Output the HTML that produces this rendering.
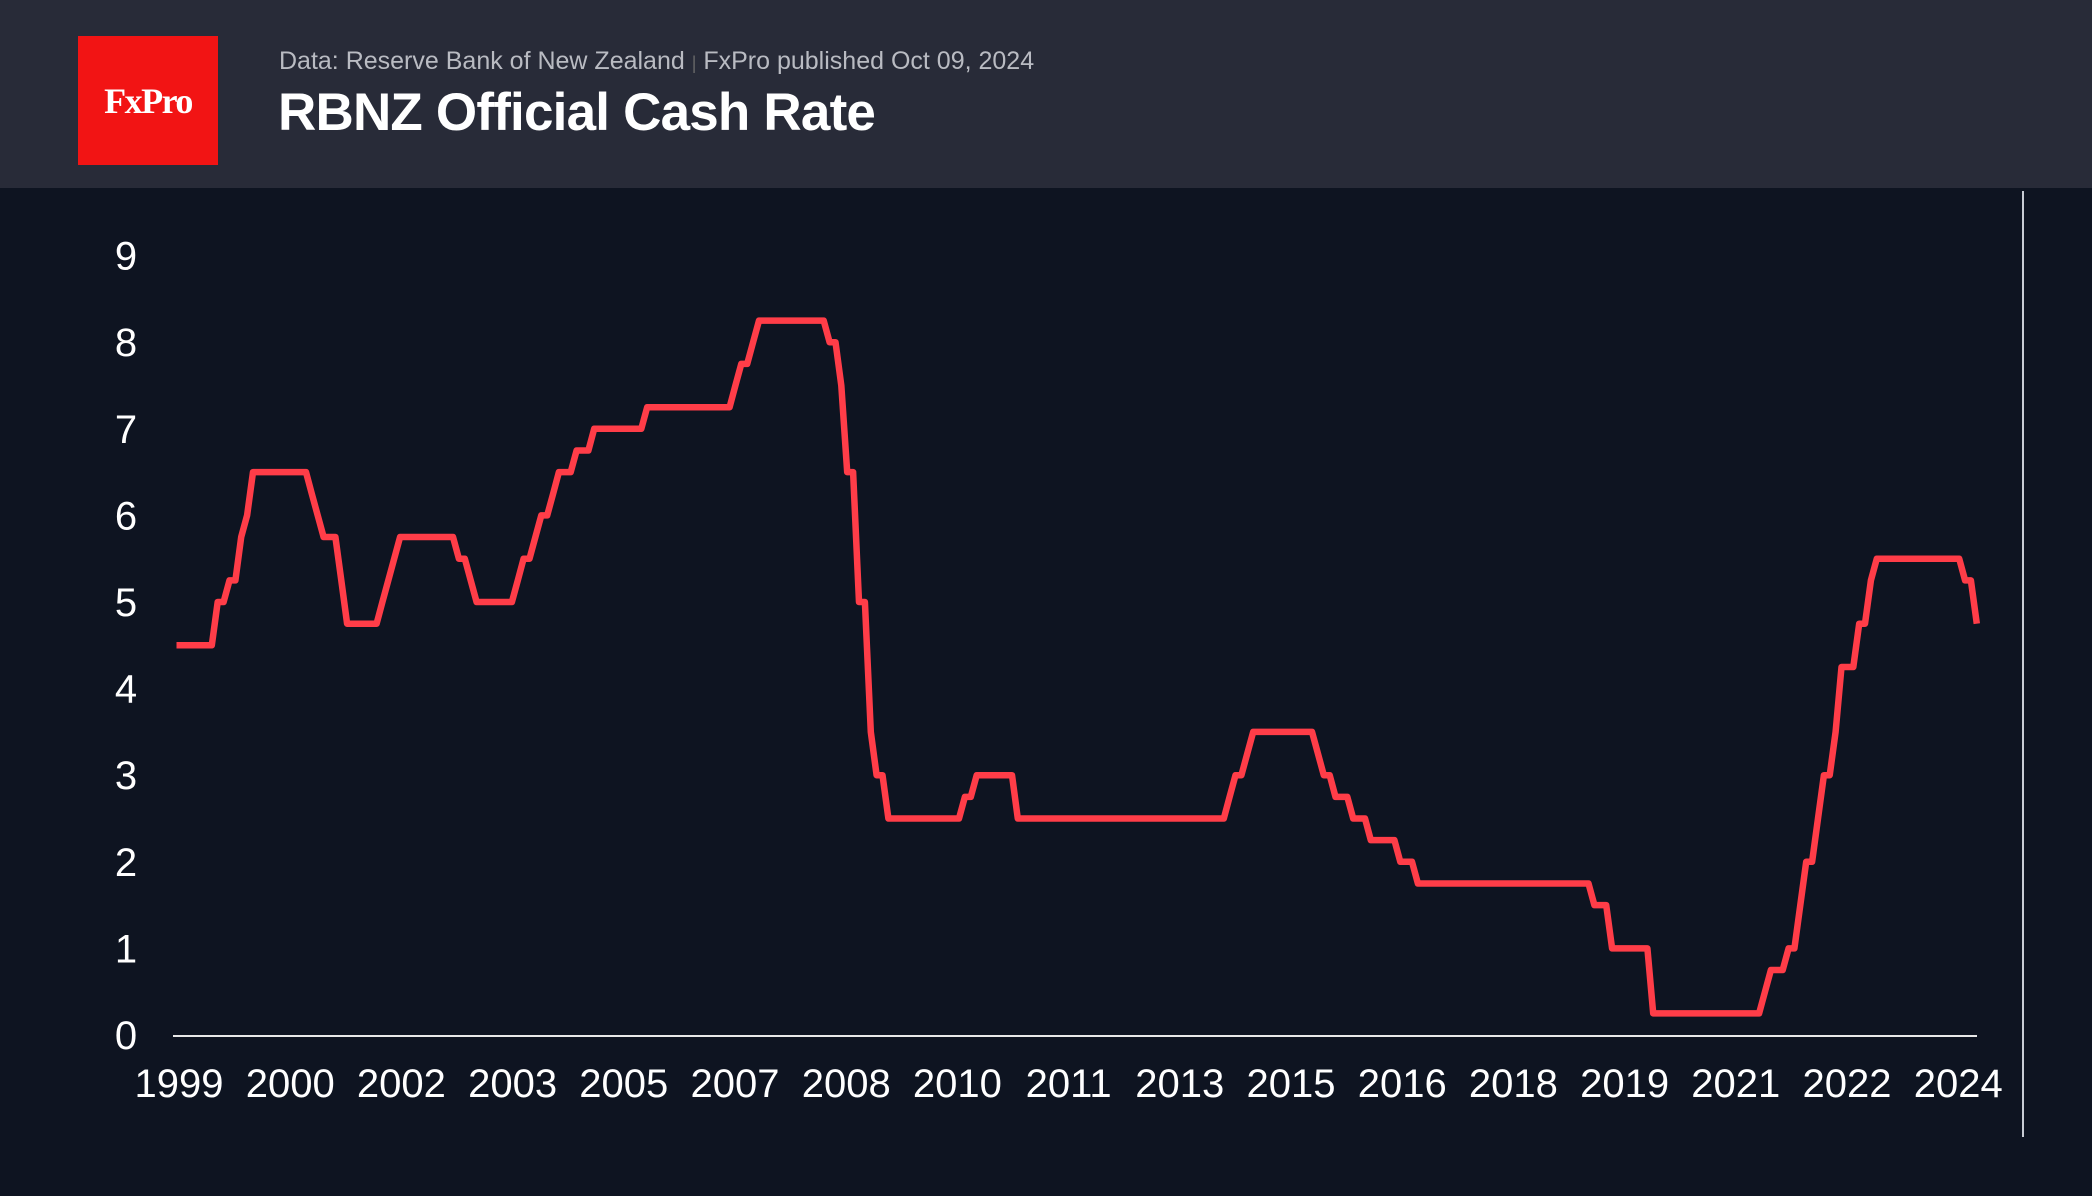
<!DOCTYPE html>
<html><head><meta charset="utf-8"><style>
body{margin:0;width:2092px;height:1196px;background:#0e1421;overflow:hidden;font-family:"Liberation Sans",sans-serif}
#hdr{position:absolute;left:0;top:0;width:2092px;height:188px;background:#282b38}
#logo{position:absolute;left:78px;top:36px;width:140px;height:129px;background:#f21414;color:#fff;font-family:"Liberation Serif",serif;font-size:36px;font-weight:bold;display:flex;align-items:center;justify-content:center;letter-spacing:-1.5px}
#sub{position:absolute;left:279px;top:47px;font-size:25px;color:#b9bbc2}
#ttl{position:absolute;left:278px;top:82px;font-size:53px;color:#fff;font-weight:bold;letter-spacing:-0.8px}
</style></head><body>
<div id="hdr"><div id="logo">FxPro</div>
<div id="sub">Data: Reserve Bank of New Zealand <span style="color:#666;font-size:18px">|</span> FxPro published Oct 09, 2024</div>
<div id="ttl">RBNZ Official Cash Rate</div></div>
<svg id="s" width="2092" height="1196" style="position:absolute;left:0;top:0" font-family="Liberation Sans, sans-serif">
<line x1="2023" y1="191" x2="2023" y2="1137" stroke="#c8ccd4" stroke-width="2"/>
<line x1="173" y1="1036" x2="1977" y2="1036" stroke="#e8e8e8" stroke-width="2"/>
<g fill="#fff" font-size="40" text-anchor="middle" id="yl"></g>
<g fill="#fff" font-size="40" text-anchor="middle" id="xl"></g>
<path id="ln" fill="none" stroke="#ff3d48" stroke-width="6.5" stroke-linejoin="round"/>
</svg>
<script>
var ns="http://www.w3.org/2000/svg";
function Y(r){return 1035-r*86.6}
function X(t){return 173+(t-1999.2)*70.6}
var yl=document.getElementById('yl');
for(var i=0;i<=9;i++){var e=document.createElementNS(ns,'text');e.setAttribute('x',126);e.setAttribute('y',Y(i)+14);e.textContent=i;yl.appendChild(e);}
var yrs=[1999,2000,2002,2003,2005,2007,2008,2010,2011,2013,2015,2016,2018,2019,2021,2022,2024];
var xl=document.getElementById('xl');
yrs.forEach(function(y,i){var e=document.createElementNS(ns,'text');e.setAttribute('x',179+i*111.2);e.setAttribute('y',1097);e.textContent=y;xl.appendChild(e);});
var d=[["1999-03-17",4.5],["1999-11-17",5],["2000-01-19",5.25],["2000-03-15",5.75],["2000-04-19",6],["2000-05-17",6.5],["2001-03-14",6.25],["2001-04-19",6],["2001-05-16",5.75],["2001-08-15",5.25],["2001-09-19",4.75],["2002-03-20",5],["2002-04-17",5.25],["2002-05-15",5.5],["2002-06-03",5.75],["2003-04-24",5.5],["2003-06-05",5.25],["2003-07-24",5],["2004-01-29",5.25],["2004-03-11",5.5],["2004-04-29",5.75],["2004-06-10",6],["2004-07-29",6.25],["2004-09-09",6.5],["2004-12-09",6.75],["2005-03-10",7],["2005-12-08",7.25],["2007-03-08",7.5],["2007-04-26",7.75],["2007-06-07",8],["2007-07-26",8.25],["2008-07-24",8],["2008-09-11",7.5],["2008-10-23",6.5],["2008-12-04",5],["2009-01-29",3.5],["2009-03-12",3],["2009-04-30",2.5],["2010-06-10",2.75],["2010-07-29",3],["2011-03-10",2.5],["2014-03-13",2.75],["2014-04-24",3],["2014-06-12",3.25],["2014-07-24",3.5],["2015-06-11",3.25],["2015-07-23",3],["2015-09-10",2.75],["2015-12-10",2.5],["2016-03-10",2.25],["2016-08-11",2],["2016-11-10",1.75],["2019-05-08",1.5],["2019-08-07",1],["2020-03-16",0.25],["2021-10-06",0.5],["2021-11-24",0.75],["2022-02-23",1],["2022-04-13",1.5],["2022-05-25",2],["2022-07-13",2.5],["2022-08-17",3],["2022-10-05",3.5],["2022-11-23",4.25],["2023-02-22",4.75],["2023-04-05",5.25],["2023-05-24",5.5],["2024-08-14",5.25],["2024-10-09",4.75]];
function rate(y,m){var ds=y+"-"+(m<10?"0":"")+m+"-28",r=4.5;for(var i=0;i<d.length;i++){if(d[i][0]<=ds)r=d[i][1];}return r;}
var p="";
for(var y=1999;y<=2024;y++)for(var m=1;m<=12;m++){var t=y+(m-1)/12;if(t<1999.2||t>2024.75)continue;p+=(p?"L":"M")+X(t).toFixed(1)+","+Y(rate(y,m)).toFixed(1);}
document.getElementById('ln').setAttribute('d',p);
</script>
</body></html>
